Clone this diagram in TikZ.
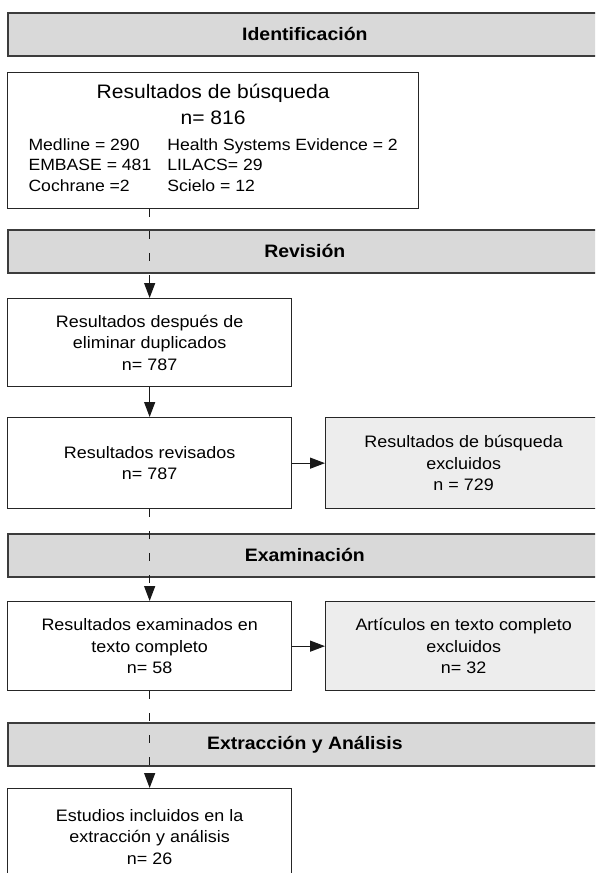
\documentclass[tikz,border=0pt]{standalone}
\usepackage{fontspec}
\setmainfont{Liberation Sans}[FakeStretch=1.08]
\usetikzlibrary{arrows.meta,positioning}
\definecolor{bandgray}{HTML}{D9D9D9}
\definecolor{exclgray}{HTML}{EDEDED}
\definecolor{linegray}{HTML}{3C3C3C}

\begin{document}
\begin{tikzpicture}[x=1pt, y=-1pt,
	band/.style={draw=linegray, line width=1.7pt, fill=bandgray, anchor=north west, inner sep=0pt,
		minimum width=594pt, minimum height=43pt, font=\fontsize{18}{21}\selectfont\bfseries},
	box/.style={draw=black!85, line width=1.3pt, anchor=north west, inner sep=0pt, align=center,
		minimum width=284pt, font=\fontsize{16.6}{21.5}\selectfont},
	excl/.style={box, fill=exclgray, minimum width=276pt},
	flow/.style={draw=black!90, line width=1.3pt, -{Triangle[length=15pt,width=11pt]}},
	skip/.style={flow, dash pattern=on 8pt off 14pt}]
	\clip (0,0) rectangle (595,873);
	% stage bands
	\node[band] (ident) at (7,12) {Identificación};
	\node[band] (revis) at (7,229) {Revisión};
	\node[band] (exam) at (7,533) {Examinación};
	\node[band] (extr) at (7,722) {Extracción y Análisis};
	% boxes
	\node[box, minimum width=411pt, minimum height=136pt] (search) at (7,72)
		{\fontsize{19.5}{23}\selectfont Resultados de búsqueda\\[5pt]
		\fontsize{19.5}{23}\selectfont n= 816\\[10pt]
		\fontsize{16.3}{20.5}\selectfont
		\begin{tabular}{@{}l@{\hspace{16pt}}l@{}}
			Medline = 290 & Health Systems Evidence = 2\\
			EMBASE = 481 & LILACS= 29\\
			Cochrane =2 & Scielo = 12
		\end{tabular}};
	\node[box, minimum height=88pt] (dedup) at (7,298) {Resultados después de\\ eliminar duplicados\\ n= 787};
	\node[box, minimum height=91pt] (screen) at (7,417) {Resultados revisados\\ n= 787};
	\node[excl, minimum height=91pt] (exclscreen) at (325,417) {Resultados de búsqueda\\ excluidos\\ n = 729};
	\node[box, minimum height=89pt] (fulltext) at (7,601) {Resultados examinados en\\ texto completo\\ n= 58};
	\node[excl, minimum height=89pt] (exclfull) at (325,601) {Artículos en texto completo\\ excluidos\\ n= 32};
	\node[box, minimum height=96pt] (incl) at (7,788) {Estudios incluidos en la\\ extracción y análisis\\ n= 26};
	% connectors
	\draw[skip] (dedup.north |- search.south) -- (dedup.north);
	\draw[flow] (dedup) -- (screen);
	\draw[flow] (screen) -- (exclscreen);
	\draw[skip] (screen) -- (fulltext);
	\draw[flow] (fulltext) -- (exclfull);
	\draw[skip] (fulltext) -- (incl);
\end{tikzpicture}
\end{document}
